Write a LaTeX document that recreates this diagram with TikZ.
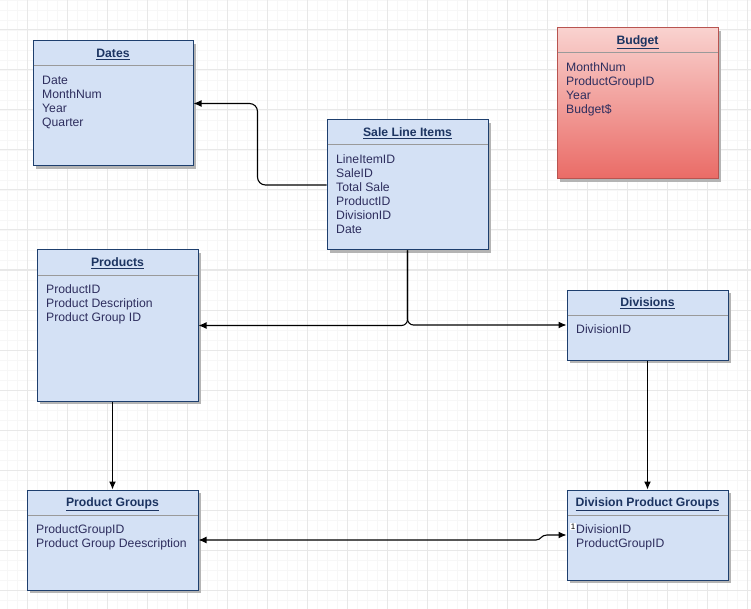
\documentclass[tikz,border=0pt]{standalone}
\usepackage{fontspec}
\setmainfont{Liberation Sans}
\usetikzlibrary{arrows.meta,calc}
\definecolor{boxfill}{HTML}{D4E1F5}
\definecolor{boxline}{HTML}{1E3F6E}
\definecolor{titlecol}{HTML}{1C3461}
\definecolor{fieldcol}{HTML}{2E2E5E}
\definecolor{sepcol}{HTML}{9A9A9A}
\definecolor{shadowcol}{HTML}{B4B4B4}
\definecolor{budgetline}{HTML}{B85450}
\definecolor{budgettop}{HTML}{F9D2CF}
\definecolor{budgetbot}{HTML}{EA6B66}
\definecolor{majorgrid}{HTML}{E8E8E8}
\definecolor{minorgrid}{HTML}{F7F7F7}
\tikzset{
  erbox/.style={draw=boxline, fill=boxfill, line width=1pt, inner sep=0pt},
  budgetbox/.style={draw=budgetline, top color=budgettop, bottom color=budgetbot, line width=1pt, inner sep=0pt},
  sepline/.style={draw=sepcol, line width=1pt},
  titletext/.style={inner sep=0pt, anchor=base, text=titlecol, font=\fontsize{12.2pt}{14pt}\selectfont\bfseries},
  fieldtext/.style={inner sep=0pt, anchor=base west, text=fieldcol, font=\fontsize{12.2pt}{14pt}\selectfont},
  conn/.style={draw=black, line width=1.1pt, -{Latex[length=8pt,width=7pt]}},
  conn2/.style={draw=black, line width=1.1pt, {Latex[length=8pt,width=7pt]}-{Latex[length=8pt,width=7pt]}},
  minorline/.style={draw=minorgrid, line width=0.7pt},
  majorline/.style={draw=majorgrid, line width=1pt}
}
% #1 name, #2 x, #3 y, #4 w, #5 h, #6 title, #7 fields, #8 box style
\newcommand\erentity[8]{%
  \fill[shadowcol] (#2+3,#3+3) rectangle ++(#4,#5);
  \node[#8, minimum width=#4pt, minimum height=#5pt] (#1) at (#2+#4/2,#3+#5/2) {};
  \draw[sepline] (#2+0.5,#3+25) -- (#2+#4-0.5,#3+25);
  \node[titletext] (#1-title) at (#2+#4/2,#3+16.5) {\underline{#6}};
  \foreach \f [count=\i] in {#7} {
    \node[fieldtext] (#1-f\i) at (#2+9,#3+43.5+14*\i-14) {\f};
  }
}
\begin{document}
\begin{tikzpicture}[x=1pt,y=-1pt]
\useasboundingbox (0,0) rectangle (751,609);
\fill[white] (0,0) rectangle (751,609);
% grid
\foreach \x in {7,17,...,747} \draw[minorline] (\x,0) -- (\x,609);
\foreach \y in {0,10,...,600} \draw[minorline] (0,\y) -- (751,\y);
\foreach \x in {27,67,...,747} \draw[majorline] (\x,0) -- (\x,609);
\foreach \y in {30,70,...,590} \draw[majorline] (0,\y) -- (751,\y);

% entities
\erentity{dates}{33}{41}{160}{125}{Dates}{Date,MonthNum,Year,Quarter}{erbox}
\erentity{sli}{327}{120}{161}{130}{Sale Line Items}{LineItemID,SaleID,Total Sale,ProductID,DivisionID,Date}{erbox}
\erentity{budget}{557}{28}{161}{151}{Budget}{MonthNum,ProductGroupID,Year,Budget\$}{budgetbox}
\erentity{products}{37}{250}{161}{151}{Products}{ProductID,Product Description,Product Group ID}{erbox}
\erentity{divisions}{567}{290}{161}{70}{Divisions}{DivisionID}{erbox}
\erentity{pg}{27}{490}{171}{100}{Product Groups}{ProductGroupID,Product Group Deescription}{erbox}
\erentity{dpg}{567}{490}{161}{90}{Division Product Groups}{DivisionID,ProductGroupID}{erbox}

\node[fill=white, inner sep=0.6pt, text=black, font=\fontsize{8pt}{9pt}\selectfont] (dpg-one) at (573,526.5) {1};

% connectors
\draw[conn, rounded corners=8pt] (sli.west) -- ($(sli.west)+(-69,0)$) |- (dates.east);
\draw[conn, rounded corners=6pt] (sli.south) |- (products.east);
\draw[conn, rounded corners=6pt] (sli.south) |- (divisions.west);
\draw[conn] (products.south -| pg.north) -- (pg.north);
\draw[conn] (divisions.south) -- (dpg.north);
\draw[conn2] (pg.east) -- (536,540) .. controls (541,540) and (541,535) .. (547,535) -- (dpg.west);
\end{tikzpicture}
\end{document}
